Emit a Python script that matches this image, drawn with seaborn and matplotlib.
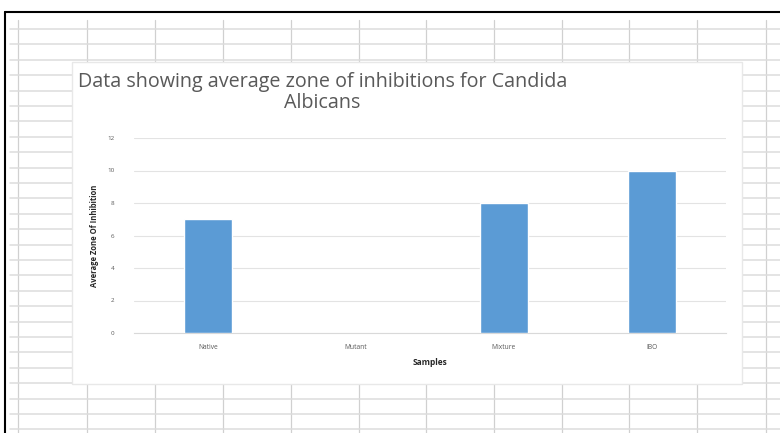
import matplotlib
matplotlib.use("Agg")
import matplotlib.pyplot as plt
from matplotlib.lines import Line2D
from matplotlib.patches import Rectangle
import seaborn as sns
import pandas as pd

# Zone of inhibition data
samples = ["Native", "Mutant", "Mixture", "IBO"]
zone = [7, 0, 8, 10]
y_ticks = [0, 2, 4, 6, 8, 10, 12]

df = pd.DataFrame({"Samples": samples, "Zone": zone})

sns.set_theme(style="white")
plt.rcParams["font.family"] = ["Open Sans", "DejaVu Sans"]

W, H = 780, 433
fig = plt.figure(figsize=(W / 100, H / 100), dpi=100)
fig.patch.set_facecolor("white")


def fx(px):
    return px / W


def fy(py):
    return 1 - py / H


# Spreadsheet cell grid behind the chart
col_x = [18, 87, 155, 223, 291, 359, 426, 494, 562, 629, 697, 766]
row_y = [29 + 15.4 * i for i in range(27)]
for x in col_x:
    fig.add_artist(Line2D([fx(x), fx(x)], [fy(20), fy(H)], color="#d0d0d0", lw=0.9, zorder=0))
for y in row_y:
    if y < H:
        fig.add_artist(Line2D([fx(10), fx(W)], [fy(y), fy(y)], color="#dcdcdc", lw=1.1, zorder=0))

# Outer window border
fig.add_artist(Line2D([fx(5), fx(W)], [fy(12), fy(12)], color="black", lw=1.5, zorder=1))
fig.add_artist(Line2D([fx(5), fx(5)], [fy(12), fy(H)], color="black", lw=1.5, zorder=1))

# Chart frame
fig.add_artist(Rectangle((fx(72), fy(384)), fx(742) - fx(72), fy(62) - fy(384),
                         facecolor="white", edgecolor="#e8e8e8", lw=1.0, zorder=2))

ax = fig.add_axes([fx(134), fy(333), fx(726) - fx(134), fy(138) - fy(333)], zorder=3)
ax.patch.set_alpha(0)

sns.barplot(data=df, x="Samples", y="Zone", color="#5b9bd5", saturation=1,
            width=0.32, ax=ax, zorder=3)

ax.set_ylim(0, 12)
ax.set_yticks(y_ticks)
ax.set_yticklabels([str(t) for t in y_ticks], fontsize=4.5, color="#595959")
ax.tick_params(axis="x", labelsize=4.8, colors="#595959", length=0, pad=8)
ax.tick_params(axis="y", length=0, pad=14)
ax.yaxis.grid(True, color="#e3e3e3", lw=0.8)
ax.set_axisbelow(True)
for s in ["top", "right", "left"]:
    ax.spines[s].set_visible(False)
ax.spines["bottom"].set_color("#d9d9d9")
ax.spines["bottom"].set_linewidth(0.8)

ax.set_xlabel("Samples", fontsize=6, fontweight="bold", color="#262626", labelpad=5)
ax.set_ylabel("Average Zone Of Inhibition", fontsize=5.5, fontweight="bold",
              color="#262626", labelpad=6)

fig.text(fx(78), fy(82), "Data showing average zone of inhibitions for Candida",
         fontsize=14.2, color="#595959", va="center", ha="left", zorder=4)
fig.text(fx(322), fy(103), "Albicans", fontsize=14.2, color="#595959",
         va="center", ha="center", zorder=4)

fig.savefig("out.png", dpi=100)
